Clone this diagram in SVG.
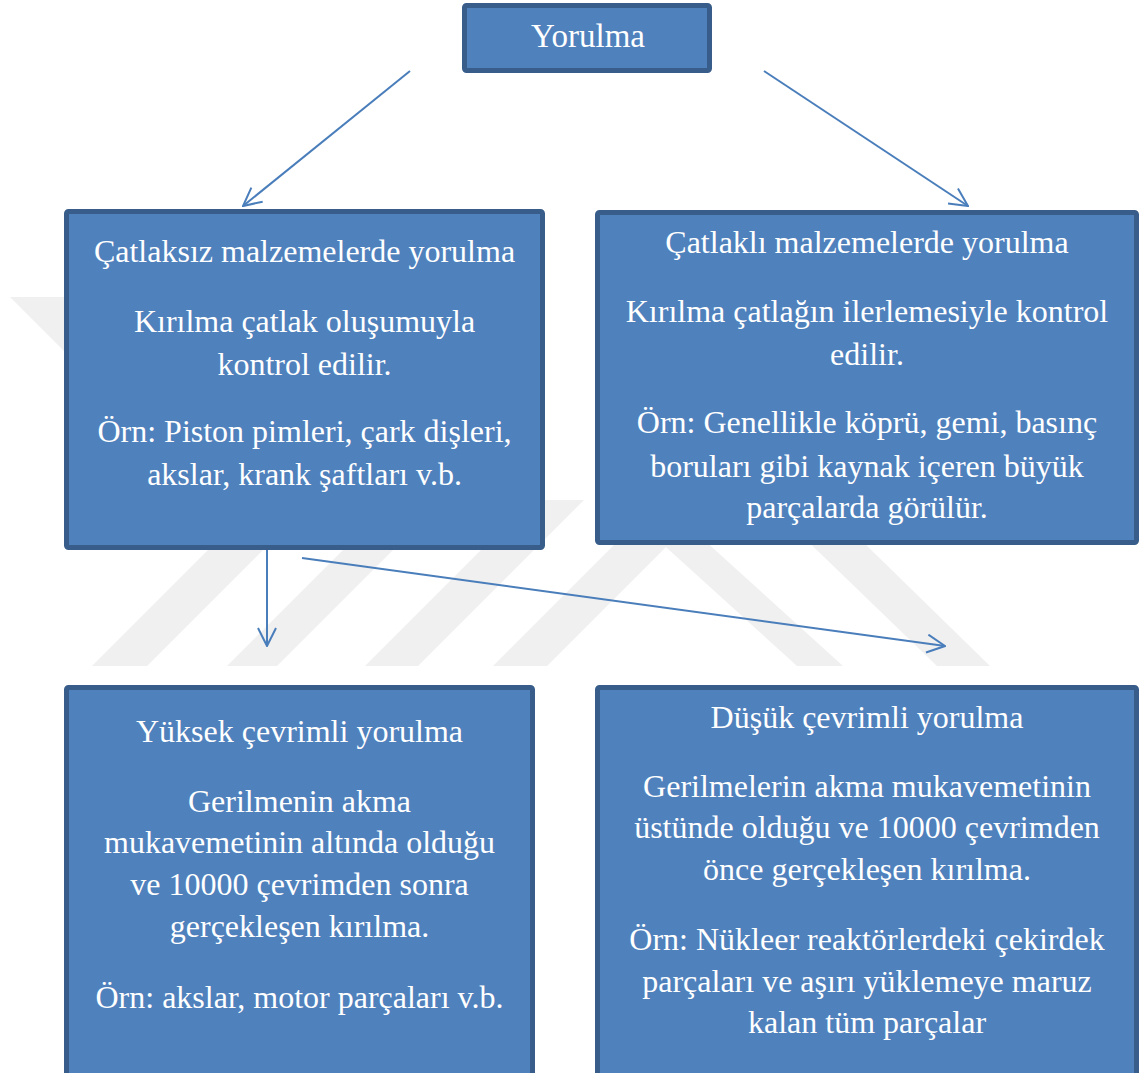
<svg xmlns="http://www.w3.org/2000/svg" width="1140" height="1073" viewBox="0 0 1140 1073">
<style>
.box{fill:#4f81bd;stroke:#385d8a;stroke-width:5}
.wm{fill:#f0f0f0}
.c{fill:none;stroke:#4a7ebb;stroke-width:2}
</style>
<defs>
<marker id="ah" viewBox="0 0 20 20" refX="19" refY="10" markerWidth="20" markerHeight="20" markerUnits="userSpaceOnUse" orient="auto">
<path d="M1,1 L19,10 L1,19" fill="none" stroke="#4a7ebb" stroke-width="2"/>
</marker>
</defs>
<rect width="1140" height="1073" fill="#ffffff"/>
<g id="watermark">
<polygon class="wm" points="10,297 65,297 120,352 65,352"/>
<polygon class="wm" points="92,666 147,666 313,500 258,500"/>
<polygon class="wm" points="227,666 277,666 443,500 393,500"/>
<polygon class="wm" points="365,666 418,666 584,500 531,500"/>
<polygon class="wm" points="493,666 547,666 713,500 659,500"/>
<polygon class="wm" points="614,500 660,500 843,666 797,666"/>
<polygon class="wm" points="765,500 820,500 990,666 937,666"/>
</g>
<g id="connectors">
<line class="c" x1="410" y1="71" x2="243" y2="206" marker-end="url(#ah)"/>
<line class="c" x1="764" y1="71" x2="968" y2="206" marker-end="url(#ah)"/>
<line class="c" x1="267" y1="550" x2="267" y2="646" marker-end="url(#ah)"/>
<line class="c" x1="302" y1="558" x2="945" y2="646" marker-end="url(#ah)"/>
</g>
<g font-family="Liberation Serif, Times New Roman, serif" font-size="32" fill="#ffffff" text-anchor="middle">
<g id="node-yorulma">
<rect class="box" x="464.5" y="5.5" width="245" height="65" rx="2"/>
<text x="588" y="47" font-size="33">Yorulma</text>
</g>
<g id="node-catlaksiz">
<rect class="box" x="66.5" y="211.5" width="476" height="336" rx="2"/>
<text x="304.5" y="262">Çatlaksız malzemelerde yorulma</text>
<text x="304.5" y="332">Kırılma çatlak oluşumuyla</text>
<text x="304.5" y="375">kontrol edilir.</text>
<text x="304.5" y="442">Örn: Piston pimleri, çark dişleri,</text>
<text x="304.5" y="485">akslar, krank şaftları v.b.</text>
</g>
<g id="node-catlakli">
<rect class="box" x="597.5" y="212.5" width="539" height="330" rx="2"/>
<text x="867" y="253">Çatlaklı malzemelerde yorulma</text>
<text x="867" y="322">Kırılma çatlağın ilerlemesiyle kontrol</text>
<text x="867" y="365">edilir.</text>
<text x="867" y="433">Örn: Genellikle köprü, gemi, basınç</text>
<text x="867" y="477">boruları gibi kaynak içeren büyük</text>
<text x="867" y="518">parçalarda görülür.</text>
</g>
<g id="node-yuksek">
<rect class="box" x="66.5" y="687.5" width="466" height="420" rx="2"/>
<text x="299.5" y="742">Yüksek çevrimli yorulma</text>
<text x="299.5" y="812">Gerilmenin akma</text>
<text x="299.5" y="853">mukavemetinin altında olduğu</text>
<text x="299.5" y="895">ve 10000 çevrimden sonra</text>
<text x="299.5" y="937">gerçekleşen kırılma.</text>
<text x="299.5" y="1008">Örn: akslar, motor parçaları v.b.</text>
</g>
<g id="node-dusuk">
<rect class="box" x="597.5" y="687.5" width="539" height="420" rx="2"/>
<text x="867" y="728">Düşük çevrimli yorulma</text>
<text x="867" y="797">Gerilmelerin akma mukavemetinin</text>
<text x="867" y="838">üstünde olduğu ve 10000 çevrimden</text>
<text x="867" y="880">önce gerçekleşen kırılma.</text>
<text x="867" y="950">Örn: Nükleer reaktörlerdeki çekirdek</text>
<text x="867" y="992">parçaları ve aşırı yüklemeye maruz</text>
<text x="867" y="1033">kalan tüm parçalar</text>
</g>
</g>
</svg>
